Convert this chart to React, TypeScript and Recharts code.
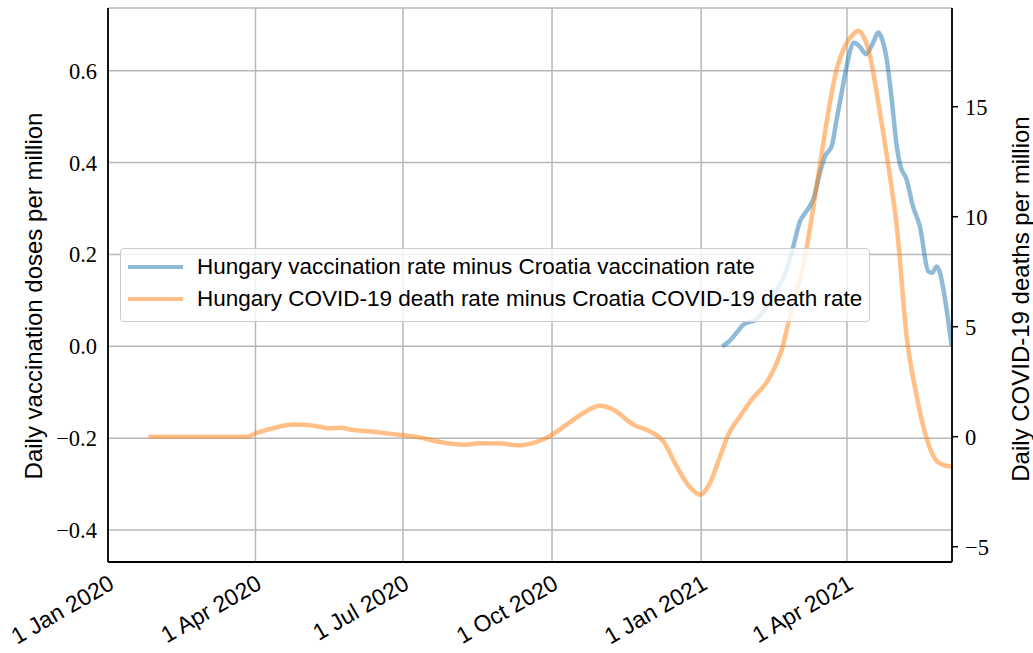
import { ComposedChart, Line, XAxis, YAxis, CartesianGrid, Legend } from "recharts";

// days counted from 1 Jan 2020
const vaccDays = [379, 383, 388, 392, 396, 400, 403, 406.5, 412.6, 418.8, 422.9, 427, 430.1, 435.2, 439.3, 442.4, 446.6, 449.6, 452.7, 455.8, 460.3, 464, 467.7, 472, 475.3, 478, 480.5, 483.6, 486.7, 488.7, 492.8, 496.7, 501, 506.2, 508.5, 511.3, 513.4, 515.2, 520.6];
const vaccValues = [0.0, 0.01, 0.03, 0.047, 0.053, 0.058, 0.07, 0.087, 0.123, 0.167, 0.218, 0.272, 0.29, 0.32, 0.378, 0.414, 0.436, 0.494, 0.552, 0.61, 0.661, 0.652, 0.636, 0.66, 0.683, 0.665, 0.625, 0.538, 0.436, 0.396, 0.363, 0.305, 0.261, 0.163, 0.16, 0.174, 0.16, 0.13, 0.0];

const deathDays = [25, 40, 55, 70, 85.6, 91.8, 100, 108.2, 116.4, 123.6, 130.8, 137, 143.2, 151.4, 159.6, 169.9, 180.2, 192.5, 204.9, 220.3, 229.5, 241.9, 254.2, 264.5, 272.7, 283, 293.3, 303.6, 311.8, 324.2, 334.4, 342.7, 350.9, 359.1, 365.3, 371.5, 377.7, 382.8, 390, 397.2, 407.5, 412.6, 415.7, 418.8, 422.9, 428.5, 437.3, 441.4, 445.5, 449.6, 454.7, 459.9, 463, 466.1, 470.2, 474.3, 478.4, 482.5, 486.7, 492.8, 499, 505.2, 511.3, 516, 520.6];
const deathValues = [0, 0, 0, 0, 0, 0.17, 0.35, 0.5, 0.55, 0.53, 0.45, 0.38, 0.41, 0.3, 0.26, 0.17, 0.08, -0.04, -0.24, -0.36, -0.3, -0.31, -0.39, -0.24, 0.03, 0.55, 1.08, 1.41, 1.23, 0.55, 0.24, -0.21, -1.35, -2.3, -2.64, -2.1, -0.89, 0.1, 0.93, 1.69, 2.6, 3.36, 3.95, 4.86, 6.08, 7.6, 11.4, 13.36, 15.2, 16.7, 17.75, 18.3, 18.45, 18.2, 17.3, 15.64, 13.8, 11.84, 9.57, 4.57, 1.84, -0.1, -1.1, -1.3, -1.35];

const xTickDays = [0, 91, 182, 274, 366, 456];
const xTickLabels = ["1 Jan 2020", "1 Apr 2020", "1 Jul 2020", "1 Oct 2020", "1 Jan 2021", "1 Apr 2021"];
const leftTicks = [-0.4, -0.2, 0, 0.2, 0.4, 0.6];
const rightTicks = [-5, 0, 5, 10, 15];

const vaccData = vaccDays.map((day, i) => ({ day, v: vaccValues[i] }));
const deathData = deathDays.map((day, i) => ({ day, d: deathValues[i] }));

const BLUE = "#1f77b4";
const ORANGE = "#ff7f0e";
const SERIF = "'Liberation Serif', 'DejaVu Serif', serif";
const SANS = "'Liberation Sans', 'DejaVu Sans', sans-serif";
const X_DOMAIN: [number, number] = [0, 520.8];

const fmtNum = (v: number, digits: number) => {
  const s = Math.abs(v).toFixed(digits);
  return v < 0 ? "\u2212" + s : s;
};

function DateTick(props: any) {
  const { x, payload } = props;
  const idx = xTickDays.indexOf(payload.value);
  const X = x - 1;
  const Y = 573;
  return (
    <text
      x={X}
      y={Y}
      dy="0.75em"
      textAnchor="end"
      transform={`rotate(-30 ${X} ${Y})`}
      fontFamily={SANS}
      fontSize={23}
      fill="#000"
    >
      {xTickLabels[idx]}
    </text>
  );
}

const legendItems = [
  { color: BLUE, text: "Hungary vaccination rate minus Croatia vaccination rate" },
  { color: ORANGE, text: "Hungary COVID-19 death rate minus Croatia COVID-19 death rate" },
];

function LegendBox() {
  return (
    <div
      style={{
        width: 750,
        height: 74,
        background: "rgba(255,255,255,0.8)",
        border: "1px solid #cccccc",
        borderRadius: 4,
        boxSizing: "border-box",
        position: "relative",
        fontFamily: SANS,
        fontSize: 22.5,
        color: "#000",
      }}
    >
      {legendItems.map((it, i) => (
        <div
          key={i}
          style={{ position: "absolute", left: 7, top: 4 + i * 32, height: 28, display: "flex", alignItems: "center", whiteSpace: "nowrap" }}
        >
          <div style={{ width: 55, height: 4.5, background: it.color, opacity: 0.5, marginRight: 14 }} />
          <span>{it.text}</span>
        </div>
      ))}
    </div>
  );
}

export default function App() {
  return (
    <div style={{ position: "absolute", left: 0, top: 0, width: 1033, height: 653, background: "#fff" }}>
      <ComposedChart width={1033} height={653} margin={{ top: 8, right: 8, bottom: 8, left: 8 }}>
        <CartesianGrid xAxisId="main" yAxisId="left" stroke="#b8b8b8" strokeWidth={1.5} />
        <XAxis
          xAxisId="main"
          type="number"
          dataKey="day"
          domain={X_DOMAIN}
          allowDataOverflow
          ticks={xTickDays}
          interval={0}
          height={83}
          tickLine={false}
          tickSize={0}
          axisLine={{ stroke: "#000", strokeWidth: 1.8 }}
          tick={<DateTick />}
        />
        <XAxis
          xAxisId="top"
          orientation="top"
          type="number"
          dataKey="day"
          domain={X_DOMAIN}
          allowDataOverflow
          height={0}
          tick={false}
          tickLine={false}
          axisLine={{ stroke: "#000", strokeWidth: 1.8 }}
        />
        <YAxis
          yAxisId="left"
          type="number"
          domain={[-0.4696, 0.7366]}
          allowDataOverflow
          ticks={leftTicks}
          interval={0}
          width={100}
          tickLine={false}
          tickSize={0}
          tickMargin={11}
          axisLine={{ stroke: "#000", strokeWidth: 1.8 }}
          tickFormatter={(v: number) => fmtNum(v, 1)}
          tick={{ fontFamily: SERIF, fontSize: 22.5, fill: "#000" }}
          label={() => (
            <text x={33} y={296} transform="rotate(-90 33 296)" textAnchor="middle" dominantBaseline="central" fontFamily={SANS} fontSize={24} fill="#000">
              Daily vaccination doses per million
            </text>
          )}
        />
        <YAxis
          yAxisId="right"
          orientation="right"
          type="number"
          domain={[-5.695, 19.486]}
          allowDataOverflow
          ticks={rightTicks}
          interval={0}
          width={73}
          tickLine={{ stroke: "#000", strokeWidth: 1.5 }}
          tickSize={6}
          tickMargin={7}
          axisLine={{ stroke: "#000", strokeWidth: 1.8 }}
          tickFormatter={(v: number) => fmtNum(v, 0)}
          tick={{ fontFamily: SERIF, fontSize: 22.5, fill: "#000" }}
          label={() => (
            <text x={1020} y={299} transform="rotate(-90 1020 299)" textAnchor="middle" dominantBaseline="central" fontFamily={SANS} fontSize={24} fill="#000">
              Daily COVID-19 deaths per million
            </text>
          )}
        />
        <Line
          data={vaccData}
          xAxisId="main"
          yAxisId="left"
          dataKey="v"
          type="monotone"
          stroke={BLUE}
          strokeOpacity={0.5}
          strokeWidth={4.5}
          dot={false}
          activeDot={false}
          isAnimationActive={false}
        />
        <Line
          data={deathData}
          xAxisId="main"
          yAxisId="right"
          dataKey="d"
          type="monotone"
          stroke={ORANGE}
          strokeOpacity={0.5}
          strokeWidth={4.5}
          dot={false}
          activeDot={false}
          isAnimationActive={false}
        />
        <Legend
          layout="horizontal"
          verticalAlign="middle"
          align="center"
          content={() => <LegendBox />}
          wrapperStyle={{ left: 120, top: 248, width: 750, height: 74 }}
        />
      </ComposedChart>
    </div>
  );
}
